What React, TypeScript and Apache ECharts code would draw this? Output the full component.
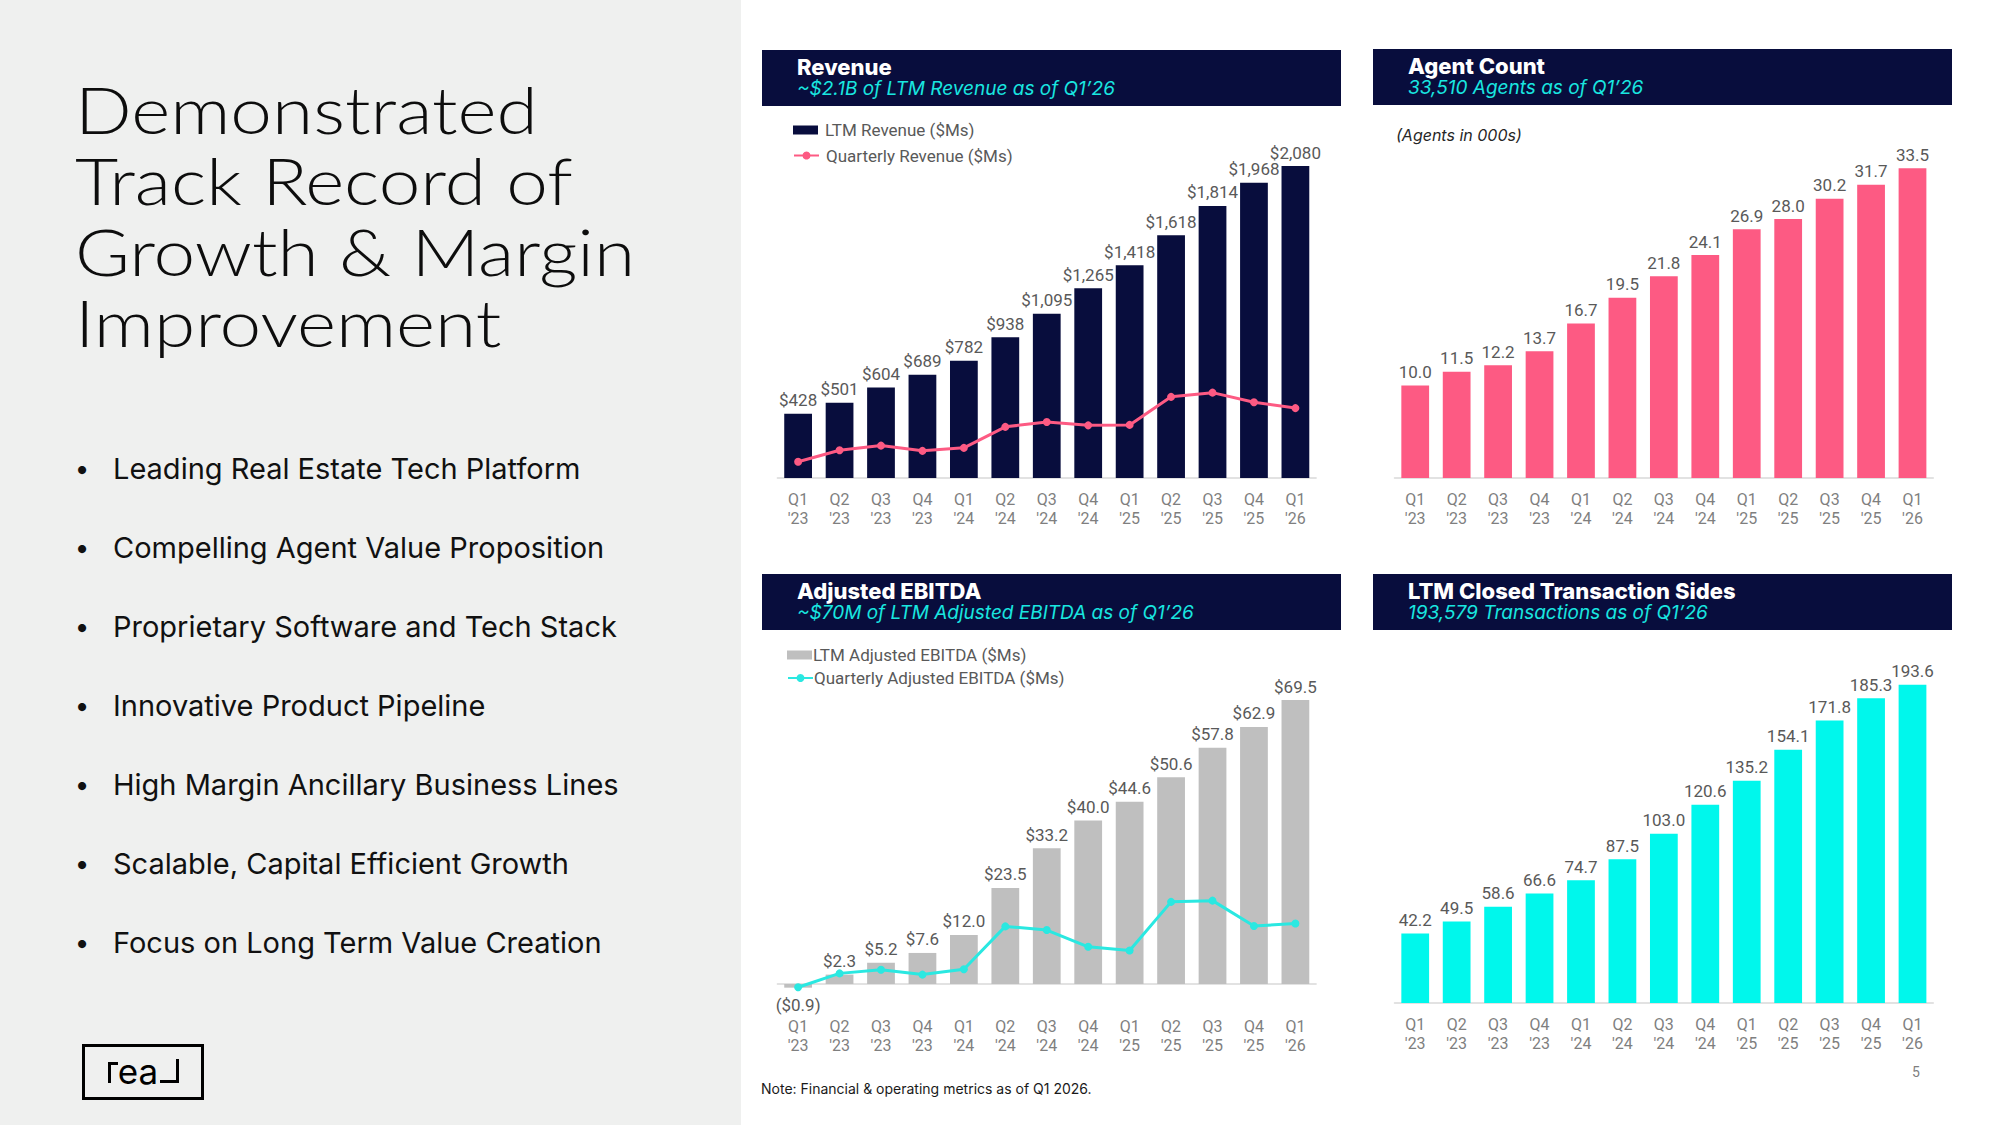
import React, { useEffect, useRef } from "react";
import * as echarts from "echarts";

// Quarter labels shared by all four charts
const quarters = ["Q1 '23", "Q2 '23", "Q3 '23", "Q4 '23", "Q1 '24", "Q2 '24", "Q3 '24", "Q4 '24", "Q1 '25", "Q2 '25", "Q3 '25", "Q4 '25", "Q1 '26"];

// Revenue ($Ms)
const ltmRevenue = [428, 501, 604, 689, 782, 938, 1095, 1265, 1418, 1618, 1814, 1968, 2080];
const quarterlyRevenue = [108, 185, 216, 181, 201, 341, 373, 351, 354, 541, 569, 505, 466];

// Agents (000s)
const agentCount = [10.0, 11.5, 12.2, 13.7, 16.7, 19.5, 21.8, 24.1, 26.9, 28.0, 30.2, 31.7, 33.5];

// Adjusted EBITDA ($Ms)
const ltmEbitda = [-0.9, 2.3, 5.2, 7.6, 12.0, 23.5, 33.2, 40.0, 44.6, 50.6, 57.8, 62.9, 69.5];
const quarterlyEbitda = [-0.8, 2.6, 3.5, 2.3, 3.6, 14.1, 13.2, 9.1, 8.2, 20.1, 20.4, 14.2, 14.8];

// LTM closed transaction sides (000s)
const ltmSides = [42.2, 49.5, 58.6, 66.6, 74.7, 87.5, 103.0, 120.6, 135.2, 154.1, 171.8, 185.3, 193.6];

const headline = ["Demonstrated", "Track Record of", "Growth & Margin", "Improvement"];
const bullets = [
  "Leading Real Estate Tech Platform",
  "Compelling Agent Value Proposition",
  "Proprietary Software and Tech Stack",
  "Innovative Product Pipeline",
  "High Margin Ancillary Business Lines",
  "Scalable, Capital Efficient Growth",
  "Focus on Long Term Value Creation",
];

const NAVY = "#080d3d";
const PINK = "#fd5a83";
const CYAN_BAR = "#00f7ec";
const CYAN_LINE = "#2ae8e1";
const GRAY_BAR = "#bfbfbf";
const LABEL = "#595959";
const AXIS_LABEL = "#7f7f7f";
const SANS = "Inter, 'Noto Sans', sans-serif";
const LIGHT = "Lato, Inter, sans-serif";
const NUM = "Roboto, 'Liberation Sans', sans-serif";

const COL_W = 41.44 * 13;
const LEFT_A = 777.4;
const LEFT_B = 1394.5;

const fmtMoney = (v: number) => "$" + v.toLocaleString("en-US");
const fmtEbitda = (v: number) => (v < 0 ? `($${Math.abs(v).toFixed(1)})` : `$${v.toFixed(1)}`);
const fmt1 = (v: number) => v.toFixed(1);

function xAxis(gridIndex: number, margin: number) {
  return {
    type: "category",
    gridIndex,
    data: quarters,
    axisTick: { show: false },
    axisLine: { onZero: true, lineStyle: { color: "#d9d9d9", width: 1.5 } },
    axisLabel: {
      interval: 0,
      margin,
      color: AXIS_LABEL,
      fontSize: 16,
      lineHeight: 19,
      fontFamily: NUM,
      formatter: (s: string) => s.replace(" ", "\n"),
    },
  };
}

function yAxis(gridIndex: number, min: number, max: number) {
  return {
    type: "value",
    gridIndex,
    min,
    max,
    show: false,
    splitLine: { show: false },
  };
}

const valueLabel = (formatter: (v: number) => string) => ({
  show: true,
  position: "top",
  distance: 5,
  color: LABEL,
  fontSize: 17,
  fontFamily: NUM,
  formatter: (p: any) => formatter(p.value),
});

function header(x: number, y: number, title: string, subtitle: string) {
  return [
    { type: "rect", shape: { x, y, width: 579, height: 56 }, style: { fill: NAVY } },
    {
      type: "text",
      x: x + 35,
      y: y + 17,
      style: { text: title, fill: "#ffffff", font: `800 22px ${SANS}`, textVerticalAlign: "middle" },
    },
    {
      type: "text",
      x: x + 35,
      y: y + 38,
      style: { text: subtitle, fill: "#19e6e0", font: `italic 400 19px ${SANS}`, textVerticalAlign: "middle" },
    },
  ];
}

function legendItem(name: string, left: number, centerY: number, textPad: number) {
  return {
    data: [name],
    left,
    top: centerY - 10,
    padding: 0,
    itemWidth: 25,
    itemHeight: 10,
    selectedMode: false,
    textStyle: { color: LABEL, fontSize: 17, fontFamily: NUM, lineHeight: 20, padding: [0, 0, 0, textPad] },
  };
}

export default function App() {
  const ref = useRef<HTMLDivElement>(null);

  useEffect(() => {
    if (!ref.current) return;
    const chart = echarts.init(ref.current, undefined, { renderer: "svg" });

    const graphics: any[] = [
      { type: "rect", shape: { x: 0, y: 0, width: 741, height: 1125 }, style: { fill: "#eff0ef" }, z: -10 },
      {
        type: "text",
        x: 75,
        y: 215.5,
        scaleX: 1.15,
        style: {
          text: headline.join("\n"),
          fill: "#0d0d0d",
          font: `300 65px ${LIGHT}`,
          lineHeight: 71,
          textVerticalAlign: "middle",
        },
      },
      ...bullets.flatMap((t, i) => [
        {
          type: "text",
          x: 82,
          y: 468 + i * 79,
          style: { text: "•", fill: "#111", font: `400 26px ${SANS}`, textAlign: "center", textVerticalAlign: "middle" },
        },
        {
          type: "text",
          x: 113,
          y: 468 + i * 79,
          style: { text: t, fill: "#111", font: `400 29px ${SANS}`, textVerticalAlign: "middle" },
        },
      ]),
      // logo
      { type: "rect", shape: { x: 83.5, y: 1045.5, width: 119, height: 53 }, style: { fill: "none", stroke: "#000", lineWidth: 3 } },
      { type: "polyline", shape: { points: [[109.5, 1083], [109.5, 1063.5], [118, 1063.5]] }, style: { stroke: "#000", lineWidth: 3, fill: "none" } },
      { type: "polyline", shape: { points: [[160, 1081.5], [177.5, 1081.5], [177.5, 1059]] }, style: { stroke: "#000", lineWidth: 3, fill: "none" } },
      {
        type: "text",
        x: 138,
        y: 1071,
        style: { text: "ea", fill: "#000", font: `400 35px ${SANS}`, textAlign: "center", textVerticalAlign: "middle" },
      },
      ...header(762, 50, "Revenue", "~$2.1B of LTM Revenue as of Q1’26"),
      ...header(1373, 49, "Agent Count", "33,510 Agents as of Q1’26"),
      ...header(762, 574, "Adjusted EBITDA", "~$70M of LTM Adjusted EBITDA as of Q1’26"),
      ...header(1373, 574, "LTM Closed Transaction Sides", "193,579 Transactions as of Q1’26"),
      {
        type: "text",
        x: 1396,
        y: 135,
        style: { text: "(Agents in 000s)", fill: "#262626", font: `italic 400 16px ${SANS}`, textVerticalAlign: "middle" },
      },
      {
        type: "text",
        x: 761,
        y: 1088,
        style: { text: "Note: Financial & operating metrics as of Q1 2026.", fill: "#1a1a1a", font: `400 14px ${SANS}`, textVerticalAlign: "middle" },
      },
      {
        type: "text",
        x: 1916,
        y: 1072,
        style: { text: "5", fill: AXIS_LABEL, font: `400 14px ${NUM}`, textAlign: "center", textVerticalAlign: "middle" },
      },
    ];

    chart.setOption({
      animation: false,
      backgroundColor: "#ffffff",
      grid: [
        { left: LEFT_A, width: COL_W, top: 118, height: 360, containLabel: false, outerBoundsMode: "none" },
        { left: LEFT_B, width: COL_W, top: 108, height: 370, containLabel: false, outerBoundsMode: "none" },
        { left: LEFT_A, width: COL_W, top: 984 - 80 * 4.086, height: 85 * 4.086, containLabel: false, outerBoundsMode: "none" },
        { left: LEFT_B, width: COL_W, top: 1003 - 220 * 1.644, height: 220 * 1.644, containLabel: false, outerBoundsMode: "none" },
      ],
      xAxis: [xAxis(0, 12), xAxis(1, 12), xAxis(2, 13), xAxis(3, 12)],
      yAxis: [yAxis(0, 0, 2400), yAxis(1, 0, 40), yAxis(2, -5, 80), yAxis(3, 0, 220)],
      legend: [
        { ...legendItem("LTM Revenue ($Ms)", 793, 130, 2), icon: "rect", itemHeight: 9 },
        legendItem("Quarterly Revenue ($Ms)", 793, 155.5, 2),
        { ...legendItem("LTM Adjusted EBITDA ($Ms)", 787, 655, -4), icon: "rect", itemHeight: 9 },
        legendItem("Quarterly Adjusted EBITDA ($Ms)", 787, 678, -4),
      ],
      series: [
        {
          name: "LTM Revenue ($Ms)",
          type: "bar",
          xAxisIndex: 0,
          yAxisIndex: 0,
          data: ltmRevenue,
          barWidth: "67%",
          itemStyle: { color: NAVY },
          label: valueLabel(fmtMoney),
        },
        {
          name: "Quarterly Revenue ($Ms)",
          type: "line",
          xAxisIndex: 0,
          yAxisIndex: 0,
          data: quarterlyRevenue,
          symbol: "circle",
          symbolSize: 8,
          itemStyle: { color: PINK },
          lineStyle: { color: PINK, width: 3 },
          z: 5,
        },
        {
          name: "Agents (000s)",
          type: "bar",
          xAxisIndex: 1,
          yAxisIndex: 1,
          data: agentCount,
          barWidth: "67%",
          itemStyle: { color: PINK },
          label: valueLabel(fmt1),
        },
        {
          name: "LTM Adjusted EBITDA ($Ms)",
          type: "bar",
          xAxisIndex: 2,
          yAxisIndex: 2,
          data: ltmEbitda.map((v) => (v < 0 ? { value: v, label: { position: "bottom", distance: 9 } } : v)),
          barWidth: "67%",
          itemStyle: { color: GRAY_BAR },
          label: valueLabel(fmtEbitda),
        },
        {
          name: "Quarterly Adjusted EBITDA ($Ms)",
          type: "line",
          xAxisIndex: 2,
          yAxisIndex: 2,
          data: quarterlyEbitda,
          symbol: "circle",
          symbolSize: 8,
          itemStyle: { color: CYAN_LINE },
          lineStyle: { color: CYAN_LINE, width: 3 },
          z: 5,
        },
        {
          name: "LTM Closed Transaction Sides (000s)",
          type: "bar",
          xAxisIndex: 3,
          yAxisIndex: 3,
          data: ltmSides,
          barWidth: "67%",
          itemStyle: { color: CYAN_BAR },
          label: valueLabel(fmt1),
        },
      ],
      graphic: graphics,
    });

    return () => chart.dispose();
  }, []);

  return <div ref={ref} style={{ position: "fixed", left: 0, top: 0, width: 1999, height: 1125 }} />;
}
